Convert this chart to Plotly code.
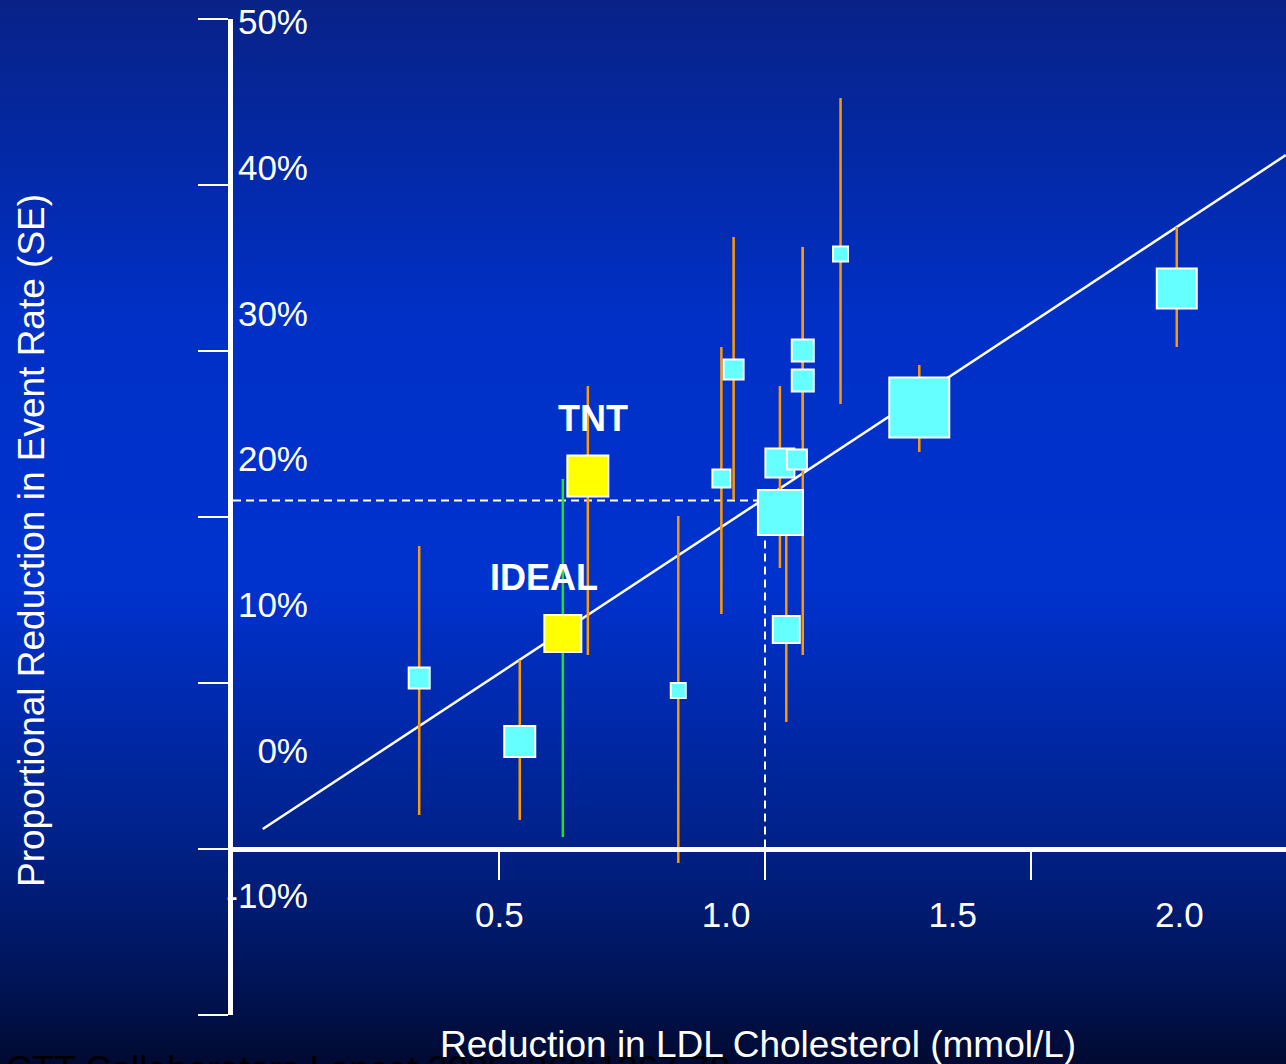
import plotly.graph_objects as go

# ---------------- data ----------------
trial_x = [0.350, 0.539, 0.837, 0.918, 0.941, 1.028, 1.029, 1.040, 1.060, 1.071, 1.071, 1.142, 1.290, 1.774]
trial_y = [10.30, 6.48, 9.55, 22.32, 28.89, 23.25, 20.27, 13.22, 23.46, 30.03, 28.22, 35.84, 26.60, 33.77]
trial_err_up = [7.95, 4.91, 10.51, 7.92, 7.98, 4.64, 1.0, 5.64, 0.5, 6.24, 8.05, 9.40, 2.56, 3.70]
trial_err_dn = [8.25, 4.73, 10.39, 8.16, 7.87, 6.32, 1.0, 5.57, 0.5, 5.39, 16.53, 9.03, 2.68, 3.53]
trial_size = [21, 31, 15, 18, 20, 29, 45, 27, 20, 22, 22, 15, 60, 40]

tnt_x, tnt_y, tnt_up, tnt_dn, tnt_size = [0.667], [22.47], [5.42], [10.78], [41]
ideal_x, ideal_y, ideal_up, ideal_dn, ideal_size = [0.620], [12.98], [9.31], [12.26], [37]

fit_x = [0.056, 1.979]
fit_y = [1.2, 41.8]

ref_x = [0.0, 1.0, 1.0]
ref_y = [21.0, 21.0, 0.0]

x_ticks = [0.5, 1.0, 1.5]
y_ticks = [-10, 0, 10, 20, 30, 40, 50]
x_label_vals = [0.5, 1.0, 1.5, 2.0]
x_label_text = ["0.5", "1.0", "1.5", "2.0"]
y_label_vals = [50, 40, 30, 20, 10, 0, -10]
y_label_text = ["50%", "40%", "30%", "20%", "10%", "0%", "-10%"]

# ---------------- layout geometry ----------------
W, H = 1286, 1064
L, R, T, B = 233, 0, 19, 49
PW, PH = W - L - R, H - T - B


def px_x(p):
    return (p - L) / PW


def px_y(p):
    return (H - B - p) / PH


FONT = "Liberation Sans, Arial, sans-serif"
WHITE = "#ffffff"
ORANGE = "#ff9900"
CYAN = "#66ffff"
YELLOW = "#ffff00"
GREEN = "#22e022"

fig = go.Figure()

# dashed reference line
fig.add_trace(go.Scatter(x=ref_x, y=ref_y, mode="lines",
                         line=dict(color=WHITE, width=2, dash="8px,5px"),
                         hoverinfo="skip", showlegend=False))
# regression line
fig.add_trace(go.Scatter(x=fit_x, y=fit_y, mode="lines",
                         line=dict(color=WHITE, width=2.5),
                         hoverinfo="skip", showlegend=False))
# trials
fig.add_trace(go.Scatter(
    x=trial_x, y=trial_y, mode="markers",
    marker=dict(symbol="square", size=trial_size, color=CYAN, opacity=1,
                line=dict(color=WHITE, width=2)),
    error_y=dict(type="data", symmetric=False, array=trial_err_up, arrayminus=trial_err_dn,
                 color=ORANGE, thickness=2.5, width=0),
    hoverinfo="skip", showlegend=False))
fig.add_trace(go.Scatter(
    x=tnt_x, y=tnt_y, mode="markers",
    marker=dict(symbol="square", size=tnt_size, color=YELLOW, opacity=1,
                line=dict(color=WHITE, width=2)),
    error_y=dict(type="data", symmetric=False, array=tnt_up, arrayminus=tnt_dn,
                 color=ORANGE, thickness=2.5, width=0),
    hoverinfo="skip", showlegend=False))
fig.add_trace(go.Scatter(
    x=ideal_x, y=ideal_y, mode="markers",
    marker=dict(symbol="square", size=ideal_size, color=YELLOW, opacity=1,
                line=dict(color=WHITE, width=2)),
    error_y=dict(type="data", symmetric=False, array=ideal_up, arrayminus=ideal_dn,
                 color=GREEN, thickness=2.5, width=0),
    hoverinfo="skip", showlegend=False))
# invisible trace to activate label axes
fig.add_trace(go.Scatter(x=[x_label_vals[0]], y=[y_label_vals[0]], xaxis="x2", yaxis="y2",
                         mode="markers", marker=dict(opacity=0), hoverinfo="skip",
                         showlegend=False))

# ---------------- background gradient ----------------
stops = [(0.0, (8, 34, 135)), (0.30, (0, 48, 198)), (0.55, (0, 50, 206)),
         (0.78, (0, 34, 140)), (0.92, (0, 20, 88)), (1.0, (0, 10, 48))]


def grad(f):
    for (f0, c0), (f1, c1) in zip(stops[:-1], stops[1:]):
        if f0 <= f <= f1:
            t = (f - f0) / (f1 - f0)
            return tuple(round(a + (b - a) * t) for a, b in zip(c0, c1))
    return stops[-1][1]


shapes = []
band = 8
for p in range(0, H, band):
    c = grad((p + band / 2) / H)
    shapes.append(dict(type="rect", xref="paper", yref="paper", layer="below",
                       x0=px_x(0), x1=px_x(W), y0=px_y(p + band + 1), y1=px_y(p),
                       fillcolor="rgb(%d,%d,%d)" % c, line=dict(width=0)))

annotations = [
    dict(text="<b>TNT</b>", x=0.677, y=25.96, xref="x", yref="y", showarrow=False,
         xanchor="center", yanchor="middle",
         font=dict(family=FONT, size=36, color=WHITE)),
    dict(text="<b>IDEAL</b>", x=0.585, y=16.33, xref="x", yref="y", showarrow=False,
         xanchor="center", yanchor="middle",
         font=dict(family=FONT, size=36, color=WHITE)),
    dict(text="Proportional Reduction in Event Rate (SE)", x=px_x(31), y=px_y(541),
         xref="paper", yref="paper", showarrow=False, textangle=-90,
         xanchor="center", yanchor="middle",
         font=dict(family=FONT, size=37, color=WHITE)),
    dict(text="CTT Collaborators Lancet 2005; 366:1267-78", x=px_x(4), y=px_y(1047),
         xref="paper", yref="paper", xanchor="left", yanchor="top", showarrow=False,
         font=dict(family=FONT, size=36, color="#000000")),
    dict(text="Reduction in LDL Cholesterol (mmol/L)", x=px_x(758), y=px_y(1044),
         xref="paper", yref="paper", showarrow=False,
         xanchor="center", yanchor="middle",
         font=dict(family=FONT, size=37, color=WHITE)),
]

fig.update_layout(
    width=W, height=H,
    margin=dict(l=L, r=R, t=T, b=B, pad=0),
    paper_bgcolor="#001a80", plot_bgcolor="rgba(0,0,0,0)",
    showlegend=False, hovermode=False,
    shapes=shapes, annotations=annotations,
    xaxis=dict(range=[0, PW / 532.0], showgrid=False, zeroline=False,
               anchor="free", position=px_y(849),
               showline=True, linecolor=WHITE, linewidth=5,
               ticks="outside", ticklen=28, tickwidth=2, tickcolor=WHITE,
               tickvals=x_ticks, showticklabels=False, fixedrange=True),
    yaxis=dict(range=[-10, 50], showgrid=False, zeroline=False,
               showline=True, linecolor=WHITE, linewidth=5,
               ticks="outside", ticklen=30, tickwidth=2, tickcolor=WHITE,
               tickvals=y_ticks, showticklabels=False, fixedrange=True),
    xaxis2=dict(range=[-0.0877, 2.2352], overlaying="x", anchor="free",
                position=px_y(891), showgrid=False, zeroline=False, showline=False,
                ticks="", tickvals=x_label_vals, ticktext=x_label_text,
                tickfont=dict(family=FONT, size=35, color=WHITE), fixedrange=True),
    yaxis2=dict(range=[-18.17, 50.206], overlaying="y", anchor="free", side="left",
                position=px_x(308), showgrid=False, zeroline=False, showline=False,
                ticks="", tickvals=y_label_vals, ticktext=y_label_text,
                tickfont=dict(family=FONT, size=35, color=WHITE), fixedrange=True),
)

html = fig.to_html(full_html=True, include_plotlyjs=True,
                   config={"displayModeBar": False, "staticPlot": True})
html = html.replace("<head>", "<head><style>html,body{margin:0;padding:0;overflow:hidden;}</style>", 1)
with open("out.html", "w", encoding="utf-8") as f:
    f.write(html)
